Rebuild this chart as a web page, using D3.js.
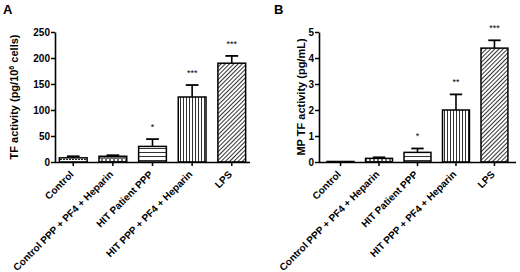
<!DOCTYPE html>
<html>
<head>
<meta charset="utf-8">
<script src="https://cdn.jsdelivr.net/npm/d3@7"></script>
<style>
  body { margin: 0; background: #fff; }
  text { font-family: "Liberation Sans", Arial, sans-serif; font-weight: bold; }
</style>
</head>
<body>
<script>
const categories = ["Control", "Control PPP + PF4 + Heparin", "HIT Patient PPP", "HIT PPP + PF4 + Heparin", "LPS"];
const patterns = ["dots", "checks", "hlines", "vlines", "diag"];

const tfMean = [8, 11, 30, 125, 190];
const tfErr = [3, 2, 14, 23, 14];
const tfStars = ["", "", "*", "***", "***"];
const tfTicks = [0, 50, 100, 150, 200, 250];

const mpMean = [0.02, 0.14, 0.37, 2.0, 4.38];
const mpErr = [0, 0.04, 0.15, 0.6, 0.3];
const mpStars = ["", "", "*", "**", "***"];
const mpTicks = [0, 1, 2, 3, 4, 5];

const svg = d3.select("body").append("svg")
    .attr("width", 520)
    .attr("height", 272);

// fill patterns
const defs = svg.append("defs");
const p1 = defs.append("pattern").attr("id", "dots").attr("patternUnits", "userSpaceOnUse")
    .attr("width", 3).attr("height", 3);
p1.append("rect").attr("width", 2).attr("height", 1).attr("fill", "#222");
const p2 = defs.append("pattern").attr("id", "checks").attr("patternUnits", "userSpaceOnUse")
    .attr("width", 4).attr("height", 4);
p2.append("circle").attr("cx", 2).attr("cy", 2).attr("r", 1.3).attr("fill", "none").attr("stroke", "#111").attr("stroke-width", 1);
const p3 = defs.append("pattern").attr("id", "hlines").attr("patternUnits", "userSpaceOnUse")
    .attr("width", 4).attr("height", 4);
p3.append("line").attr("x1", 0).attr("x2", 4).attr("y1", 0.5).attr("y2", 0.5).attr("stroke", "#333").attr("stroke-width", 1);
const p4 = defs.append("pattern").attr("id", "vlines").attr("patternUnits", "userSpaceOnUse")
    .attr("width", 3).attr("height", 3);
p4.append("line").attr("x1", 0.5).attr("x2", 0.5).attr("y1", 0).attr("y2", 3).attr("stroke", "#333").attr("stroke-width", 1);
const p5 = defs.append("pattern").attr("id", "diag").attr("patternUnits", "userSpaceOnUse")
    .attr("width", 3).attr("height", 3).attr("patternTransform", "rotate(45)");
p5.append("line").attr("x1", 0.5).attr("x2", 0.5).attr("y1", 0).attr("y2", 3).attr("stroke", "#333").attr("stroke-width", 1);

function panel(opts) {
    const g = svg.append("g");
    const x = d3.scaleBand().domain(categories).range([opts.x0, opts.x1])
        .paddingInner(0.3).paddingOuter(opts.padOuter);
    const y = d3.scaleLinear().domain(opts.domain).range([162, 32]);

    g.append("text").attr("x", opts.labelX).attr("y", 14)
        .style("font-size", "13px").text(opts.letter);

    const yAxis = g.append("g")
        .attr("transform", `translate(${opts.x0},0)`)
        .call(d3.axisLeft(y).tickValues(opts.ticks).tickFormat(d3.format("d")).tickSize(4).tickSizeOuter(0));
    yAxis.select(".domain").attr("stroke-width", 1.6);
    yAxis.selectAll(".tick line").attr("stroke-width", 1.5);
    yAxis.selectAll("text").style("font-size", "10px").attr("x", -5);

    const bars = g.selectAll(".bar").data(categories).enter();
    bars.append("rect")
        .attr("x", d => x(d))
        .attr("width", x.bandwidth())
        .attr("y", (d, i) => y(opts.mean[i]))
        .attr("height", (d, i) => y(0) - y(opts.mean[i]))
        .attr("fill", (d, i) => `url(#${patterns[i]})`)
        .attr("stroke", "#000")
        .attr("stroke-width", 1.5);

    // error bars (upper only)
    bars.append("line")
        .attr("x1", d => x(d) + x.bandwidth() / 2)
        .attr("x2", d => x(d) + x.bandwidth() / 2)
        .attr("y1", (d, i) => y(opts.mean[i]))
        .attr("y2", (d, i) => y(opts.mean[i] + opts.err[i]))
        .attr("stroke", "#000").attr("stroke-width", 1.6);
    bars.append("line")
        .attr("x1", d => x(d) + x.bandwidth() * 0.27)
        .attr("x2", d => x(d) + x.bandwidth() * 0.73)
        .attr("y1", (d, i) => y(opts.mean[i] + opts.err[i]))
        .attr("y2", (d, i) => y(opts.mean[i] + opts.err[i]))
        .attr("stroke", "#000").attr("stroke-width", 1.8)
        .attr("display", (d, i) => opts.err[i] > 0 ? null : "none");

    bars.append("text")
        .attr("x", d => x(d) + x.bandwidth() / 2)
        .attr("y", (d, i) => y(opts.mean[i] + opts.err[i]) - 9)
        .attr("text-anchor", "middle")
        .style("font-size", "9px")
        .style("font-weight", "normal")
        .text((d, i) => opts.stars[i]);

    const xAxis = g.append("g")
        .attr("transform", "translate(0,162)")
        .call(d3.axisBottom(x).tickSize(4).tickSizeOuter(0));
    xAxis.select(".domain").attr("stroke-width", 1.6).attr("d", `M${opts.x0},0.5H${opts.x1}`);
    xAxis.selectAll(".tick line").attr("stroke-width", 1.5);
    xAxis.selectAll("text")
        .style("font-size", "10px")
        .attr("text-anchor", "end")
        .attr("y", 0)
        .attr("dy", 0)
        .attr("transform", "translate(1,13) rotate(-45)");

    if (opts.title) {
        g.append("text")
            .attr("transform", `translate(${opts.titleX},97) rotate(-90)`)
            .attr("text-anchor", "middle")
            .style("font-size", "11px")
            .text(opts.title);
    }
}

panel({ letter: "A", labelX: 3, x0: 55, x1: 250, padOuter: 0.11, domain: [0, 250], ticks: tfTicks,
        mean: tfMean, err: tfErr, stars: tfStars, titleX: 18, title: "" });
panel({ letter: "B", labelX: 274, x0: 319, x1: 516, padOuter: 0.21, domain: [0, 5], ticks: mpTicks,
        mean: mpMean, err: mpErr, stars: mpStars, titleX: 305, title: "MP TF activity (pg/mL)" });

// panel A title has a superscript
svg.append("text")
    .attr("transform", "translate(18,97) rotate(-90)")
    .attr("text-anchor", "middle")
    .style("font-size", "11px")
    .call(t => {
        t.append("tspan").text("TF activity (pg/10");
        t.append("tspan").attr("dy", -4).style("font-size", "7px").text("6");
        t.append("tspan").attr("dy", 4).text(" cells)");
    });
</script>
</body>
</html>
